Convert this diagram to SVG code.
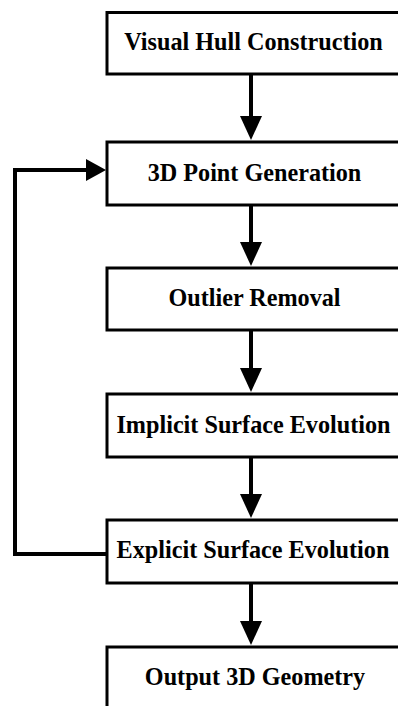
<svg xmlns="http://www.w3.org/2000/svg" width="398" height="706" viewBox="0 0 398 706">
<style>
.box{fill:#fff;stroke:#000;stroke-width:3}
.lbl{font-family:"Liberation Serif","Times New Roman",serif;font-weight:bold;font-size:24.2px;fill:#000;text-anchor:middle}
.ln{fill:none;stroke:#000;stroke-width:4;stroke-linejoin:miter}
.ah{fill:#000}
</style>
<rect width="398" height="706" fill="#fff"/>
<g id="n1"><rect class="box" x="107" y="12.5" width="296" height="61.5"/><text class="lbl" x="253.5" y="50">Visual Hull Construction</text></g>
<g id="n2"><rect class="box" x="107" y="142" width="296" height="63"/><text class="lbl" x="254.5" y="180.5">3D Point Generation</text></g>
<g id="n3"><rect class="box" x="107" y="268" width="296" height="62"/><text class="lbl" x="254.5" y="305.5">Outlier Removal</text></g>
<g id="n4"><rect class="box" x="107" y="394" width="296" height="63"/><text class="lbl" x="253.5" y="432.5">Implicit Surface Evolution</text></g>
<g id="n5"><rect class="box" x="107" y="520" width="296" height="63"/><text class="lbl" x="253" y="558">Explicit Surface Evolution</text></g>
<g id="n6"><rect class="box" x="107" y="647" width="296" height="63"/><text class="lbl" x="255" y="685">Output 3D Geometry</text></g>
<g id="connectors">
<line class="ln" x1="251" y1="74" x2="251" y2="118"/><polygon class="ah" points="240,116 262,116 251,140"/>
<line class="ln" x1="251" y1="205" x2="251" y2="244"/><polygon class="ah" points="240,242 262,242 251,266"/>
<line class="ln" x1="251" y1="330" x2="251" y2="370"/><polygon class="ah" points="240,368 262,368 251,392"/>
<line class="ln" x1="251" y1="457" x2="251" y2="496"/><polygon class="ah" points="240,494 262,494 251,518"/>
<line class="ln" x1="251" y1="583" x2="251" y2="623"/><polygon class="ah" points="240,621 262,621 251,645"/>
<polyline class="ln" points="107,554 15,554 15,170 88,170"/><polygon class="ah" points="86,159 86,181 106,170"/>
</g>
</svg>
